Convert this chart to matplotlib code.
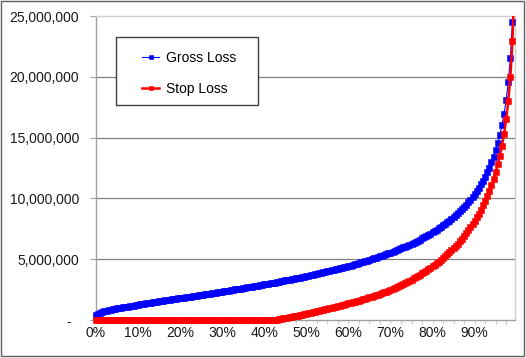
import numpy as np
import matplotlib
matplotlib.use("Agg")
import matplotlib.pyplot as plt
from matplotlib.patches import Rectangle

plt.rcParams['font.family'] = ['Liberation Sans', 'DejaVu Sans']

# categories: 0% .. 99.5% in half-percent steps
pct = np.arange(0, 100, 0.5)

# Gross Loss (millions)
gross_loss = [
    0.38, 0.47, 0.57, 0.64, 0.70, 0.75, 0.80, 0.84, 0.88, 0.92,
    0.95, 0.98, 1.00, 1.03, 1.07, 1.10, 1.13, 1.16, 1.19, 1.22,
    1.25, 1.28, 1.31, 1.34, 1.37, 1.40, 1.42, 1.45, 1.48, 1.51,
    1.53, 1.56, 1.59, 1.61, 1.64, 1.67, 1.69, 1.72, 1.75, 1.77,
    1.80, 1.83, 1.85, 1.88, 1.91, 1.93, 1.96, 1.99, 2.01, 2.04,
    2.07, 2.09, 2.12, 2.15, 2.17, 2.20, 2.23, 2.25, 2.28, 2.31,
    2.34, 2.37, 2.39, 2.42, 2.45, 2.48, 2.51, 2.53, 2.56, 2.59,
    2.62, 2.65, 2.68, 2.71, 2.74, 2.77, 2.80, 2.83, 2.86, 2.89,
    2.92, 2.95, 2.99, 3.02, 3.05, 3.08, 3.11, 3.15, 3.18, 3.21,
    3.25, 3.28, 3.31, 3.35, 3.38, 3.42, 3.45, 3.49, 3.53, 3.56,
    3.60, 3.64, 3.68, 3.71, 3.75, 3.79, 3.83, 3.87, 3.91, 3.95,
    3.99, 4.04, 4.08, 4.12, 4.16, 4.21, 4.25, 4.30, 4.34, 4.39,
    4.44, 4.48, 4.53, 4.58, 4.63, 4.68, 4.73, 4.78, 4.84, 4.89,
    4.95, 5.00, 5.06, 5.12, 5.17, 5.23, 5.29, 5.35, 5.42, 5.48,
    5.55, 5.61, 5.68, 5.75, 5.82, 5.89, 5.97, 6.04, 6.12, 6.20,
    6.28, 6.36, 6.44, 6.53, 6.62, 6.71, 6.80, 6.90, 7.00, 7.10,
    7.20, 7.31, 7.42, 7.54, 7.65, 7.78, 7.90, 8.03, 8.17, 8.31,
    8.46, 8.61, 8.77, 8.93, 9.11, 9.29, 9.48, 9.68, 9.89, 10.11,
    10.35, 10.60, 10.87, 11.15, 11.46, 11.79, 12.15, 12.54, 12.96, 13.43,
    13.96, 14.56, 15.23, 16.02, 16.96, 18.10, 19.56, 21.52, 24.48, 30.07,
]

# Stop Loss (millions): nothing until ~43%
stop_loss = [0.0] * 86 + [
    0.03, 0.07, 0.10, 0.13, 0.17, 0.20, 0.23, 0.27, 0.30, 0.34,
    0.37, 0.41, 0.45, 0.48, 0.52, 0.56, 0.60, 0.63, 0.67, 0.71,
    0.75, 0.79, 0.83, 0.87, 0.91, 0.96, 1.00, 1.04, 1.08, 1.13,
    1.17, 1.22, 1.26, 1.31, 1.36, 1.40, 1.45, 1.50, 1.55, 1.60,
    1.65, 1.70, 1.76, 1.81, 1.87, 1.92, 1.98, 2.04, 2.09, 2.15,
    2.21, 2.27, 2.34, 2.40, 2.47, 2.55, 2.63, 2.71, 2.79, 2.88,
    2.96, 3.05, 3.14, 3.23, 3.33, 3.42, 3.52, 3.62, 3.73, 3.83,
    3.94, 4.05, 4.17, 4.28, 4.40, 4.54, 4.67, 4.81, 4.95, 5.10,
    5.25, 5.41, 5.57, 5.74, 5.91, 6.09, 6.29, 6.49, 6.70, 6.91,
    7.14, 7.38, 7.62, 7.88, 8.15, 8.44, 8.75, 9.07, 9.42, 9.79,
    10.19, 10.62, 11.08, 11.59, 12.16, 12.79, 13.51, 14.33, 15.31, 16.49,
    17.98, 19.99, 22.98, 28.62,
]

y_ticks = [0, 5e6, 10e6, 15e6, 20e6, 25e6]
y_labels = ['-  ', '5,000,000', '10,000,000', '15,000,000', '20,000,000', '25,000,000']
x_ticks = [0, 10, 20, 30, 40, 50, 60, 70, 80, 90]
x_labels = ['0%', '10%', '20%', '30%', '40%', '50%', '60%', '70%', '80%', '90%']

W, H = 526, 358
fig = plt.figure(figsize=(W / 100, H / 100), dpi=100)
ax = fig.add_axes([96 / W, 1 - 320 / H, 419 / W, 304 / H])

g = np.array(gross_loss) * 1e6
s = np.array(stop_loss) * 1e6

# let markers spill a little past the bottom/left like Excel, but cut at the top
clip = Rectangle((-0.02, -0.03), 1.04, 1.03, transform=ax.transAxes)
l1, = ax.plot(pct, g, color='#0000ff', lw=0.8, marker='s', ms=4.3, mew=0.4,
              mfc='#0000ff', mec='#0000ff', label='Gross Loss', zorder=3)
l2, = ax.plot(pct, s, color='#ff0000', lw=1.8, marker='s', ms=4.3, mew=0.4,
              mfc='#ff0000', mec='#ff0000', label='Stop Loss', zorder=4)
for ln in (l1, l2):
    ln.set_clip_path(clip)

ax.set_xlim(0, 99.6)
ax.set_ylim(0, 25e6)

ax.set_yticks(y_ticks)
ax.set_yticklabels(y_labels)
ax.set_xticks(x_ticks)
ax.set_xticklabels(x_labels)
ax.set_xticks(np.arange(0, 100, 2.5), minor=True)

for yv in y_ticks[1:-1]:
    ax.axhline(yv, color='#808080', lw=0.9, zorder=1)

ax.spines['left'].set_color('#a0a0a0')
ax.spines['bottom'].set_color('#a0a0a0')
ax.spines['top'].set_color('#d0d0d0')
ax.spines['right'].set_color('#d0d0d0')
for sp in ax.spines.values():
    sp.set_linewidth(1.0)

ax.tick_params(axis='y', direction='out', length=4, width=0.8, color='#a0a0a0',
               pad=8, labelsize=10, labelcolor='#1a1a1a')
ax.tick_params(axis='x', which='both', direction='out', length=3, width=0.8,
               color='#dcc8c8', pad=1, labelsize=10, labelcolor='#1a1a1a')

# legend box
fig.add_artist(Rectangle((116 / W, 1 - 105 / H), 142 / W, 68 / H,
                         transform=fig.transFigure, fc='white', ec='#404040',
                         lw=1.0, zorder=4))
fig.legend(handles=[l1, l2], loc='upper left', bbox_to_anchor=(142 / W, 1 - 51 / H),
           frameon=False, fontsize=10, borderpad=0, borderaxespad=0, markerscale=0.7,
           handlelength=1.25, handletextpad=0.5, labelspacing=1.22)

# chart border
fig.add_artist(Rectangle((1 / W, 2 / H), 523 / W, 355 / H, transform=fig.transFigure,
                         fill=False, ec='#606060', lw=1.0))

fig.savefig('out.png', dpi=100)
